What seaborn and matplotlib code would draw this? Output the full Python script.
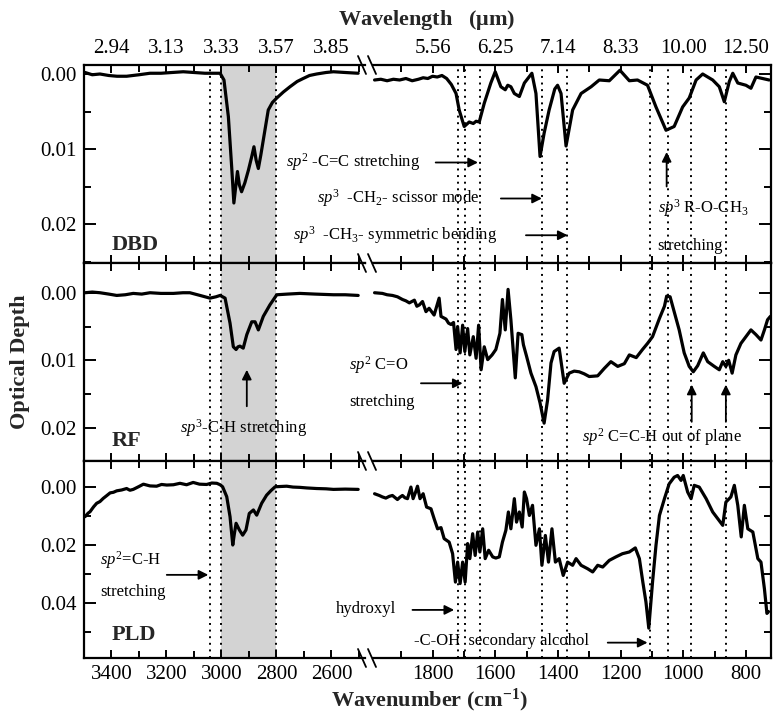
import matplotlib
matplotlib.use('Agg')
import matplotlib.pyplot as plt
import seaborn as sns
from matplotlib.ticker import MultipleLocator, FixedLocator, FixedFormatter, FormatStrFormatter
from matplotlib.lines import Line2D

# ---- data (wavenumber cm-1, optical depth) ----
# DBD
dbd_ch_wn = [3496, 3470, 3442, 3410, 3380, 3345, 3300, 3260, 3220, 3180, 3139, 3100, 3060, 3030, 3005,
             2991, 2975, 2963, 2955, 2942, 2935, 2927, 2915, 2902, 2890, 2882, 2874, 2866, 2857, 2848,
             2830, 2815, 2799, 2775, 2751, 2725, 2703, 2680, 2654, 2620, 2593, 2550, 2503]
dbd_ch_od = [-0.0002, 0.0001, 0.0000, 0.0002, 0.0003, 0.0003, 0.0001, -0.0001, -0.0001, -0.0002, -0.0003,
             -0.0002, -0.0001, -0.0001, -0.0001, 0.0008, 0.0057, 0.0124, 0.0172, 0.0130, 0.0148, 0.0157,
             0.0145, 0.0128, 0.0110, 0.0097, 0.0115, 0.0126, 0.0108, 0.0088, 0.0048, 0.0038, 0.0032,
             0.0024, 0.0017, 0.0010, 0.0006, 0.0002, 0.0000, -0.0002, -0.0003, -0.0002, -0.0001]
dbd_fp_wn = [1985, 1965, 1945, 1925, 1905, 1885, 1865, 1845, 1830, 1815, 1800, 1785, 1770, 1755, 1740,
             1725, 1715, 1699, 1683, 1670, 1661, 1651, 1635, 1614, 1600, 1582, 1568, 1560, 1550, 1539,
             1523, 1507, 1483, 1470, 1457, 1444, 1428, 1410, 1401, 1390, 1374, 1353, 1326, 1294, 1268,
             1236, 1202, 1172, 1146, 1114, 1087, 1055, 1029, 1002, 981, 959, 938, 906, 885, 869,
             853, 842, 826, 800, 784, 768, 747, 726]
dbd_fp_od = [0.0008, 0.0007, 0.0009, 0.0007, 0.0008, 0.0006, 0.0009, 0.0007, 0.0005, 0.0006, 0.0003,
             0.0004, 0.0002, 0.0006, 0.0014, 0.0026, 0.0048, 0.0070, 0.0064, 0.0066, 0.0063, 0.0064,
             0.0039, 0.0012, -0.0003, 0.0017, 0.0021, 0.0015, 0.0017, 0.0026, 0.0030, 0.0012, -0.0001,
             0.0026, 0.0110, 0.0079, 0.0048, 0.0020, 0.0015, 0.0026, 0.0096, 0.0048, 0.0026, 0.0017,
             0.0008, 0.0009, -0.0005, 0.0009, 0.0008, 0.0015, 0.0044, 0.0075, 0.0070, 0.0044, 0.0032,
             0.0008, 0.0000, 0.0008, 0.0017, 0.0037, 0.0010, -0.0001, 0.0012, 0.0015, 0.0019, 0.0004,
             0.0006, 0.0008]

# RF
rf_ch_wn = [3496, 3470, 3442, 3410, 3381, 3350, 3321, 3290, 3260, 3220, 3175, 3140, 3115, 3078, 3042,
            3020, 3005, 2987, 2969, 2957, 2947, 2940, 2933, 2921, 2908, 2890, 2878, 2866, 2848, 2824,
            2799, 2760, 2715, 2660, 2593, 2550, 2503]
rf_ch_od = [0.0000, -0.0001, 0.0000, 0.0002, 0.0004, 0.0003, 0.0001, 0.0002, 0.0000, 0.0001, 0.0001,
            0.0000, -0.0000, 0.0004, 0.0008, 0.0006, 0.0004, 0.0008, 0.0045, 0.0080, 0.0084, 0.0080,
            0.0079, 0.0082, 0.0062, 0.0043, 0.0043, 0.0055, 0.0035, 0.0018, 0.0003, 0.0002, 0.0001,
            0.0002, 0.0003, 0.0003, 0.0004]
rf_fp_wn = [1985, 1960, 1945, 1928, 1912, 1896, 1885, 1874, 1858, 1850, 1842, 1832, 1821, 1811, 1795,
            1779, 1773, 1757, 1749, 1741, 1733, 1725, 1720, 1712, 1704, 1697, 1688, 1681, 1670, 1661,
            1653, 1645, 1635, 1624, 1610, 1598, 1585, 1577, 1568, 1559, 1550, 1536, 1527, 1515, 1510,
            1500, 1486, 1470, 1457, 1444, 1433, 1422, 1412, 1396, 1380, 1364, 1348, 1332, 1316, 1300,
            1273, 1252, 1231, 1209, 1188, 1172, 1150, 1130, 1114, 1098, 1076, 1060, 1053, 1042, 1029,
            1013, 997, 981, 968, 954, 936, 922, 901, 885, 874, 864, 855, 844, 832, 816,
            800, 784, 768, 752, 741, 731, 722]
rf_fp_od = [0.0000, 0.0001, 0.0003, 0.0004, 0.0006, 0.0010, 0.0012, 0.0015, 0.0011, 0.0020, 0.0018,
            0.0013, 0.0028, 0.0023, 0.0033, 0.0008, 0.0035, 0.0039, 0.0045, 0.0047, 0.0044, 0.0084,
            0.0050, 0.0089, 0.0048, 0.0087, 0.0053, 0.0092, 0.0065, 0.0097, 0.0048, 0.0114, 0.0080,
            0.0099, 0.0092, 0.0084, 0.0060, 0.0010, 0.0055, -0.0005, 0.0040, 0.0126, 0.0060, 0.0062,
            0.0077, 0.0094, 0.0119, 0.0139, 0.0163, 0.0193, 0.0159, 0.0104, 0.0087, 0.0082, 0.0134,
            0.0119, 0.0116, 0.0117, 0.0120, 0.0124, 0.0123, 0.0112, 0.0102, 0.0109, 0.0105, 0.0092,
            0.0096, 0.0084, 0.0075, 0.0065, 0.0038, 0.0020, 0.0005, 0.0006, 0.0028, 0.0055, 0.0089,
            0.0109, 0.0117, 0.0108, 0.0089, 0.0102, 0.0109, 0.0114, 0.0102, 0.0109, 0.0100, 0.0119,
            0.0092, 0.0075, 0.0065, 0.0055, 0.0062, 0.0070, 0.0055, 0.0040, 0.0035]

# PLD
pld_ch_wn = [3496, 3485, 3478, 3465, 3454, 3442, 3430, 3418, 3405, 3393, 3381, 3363, 3345, 3333, 3321,
             3300, 3284, 3260, 3236, 3218, 3199, 3175, 3151, 3127, 3103, 3080, 3054, 3035, 3017, 3005,
             2996, 2981, 2969, 2959, 2953, 2947, 2935, 2923, 2911, 2899, 2884, 2872, 2854, 2836, 2820,
             2805, 2785, 2763, 2740, 2715, 2690, 2654, 2620, 2593, 2550, 2503]
pld_ch_od = [0.0102, 0.0090, 0.0085, 0.0068, 0.0056, 0.0050, 0.0039, 0.0030, 0.0020, 0.0018, 0.0013,
             0.0010, 0.0005, 0.0011, 0.0008, -0.0002, -0.0010, -0.0004, -0.0003, -0.0009, -0.0007,
             -0.0008, -0.0013, -0.0008, -0.0016, -0.0010, -0.0009, -0.0014, -0.0013, -0.0008, -0.0001,
             0.0033, 0.0102, 0.0200, 0.0160, 0.0125, 0.0148, 0.0166, 0.0148, 0.0091, 0.0079, 0.0097,
             0.0056, 0.0028, 0.0012, -0.0001, -0.0002, -0.0003, 0.0000, 0.0001, 0.0003, 0.0005, 0.0006,
             0.0008, 0.0007, 0.0008]
pld_fp_wn = [1985, 1970, 1960, 1949, 1938, 1928, 1920, 1912, 1904, 1896, 1888, 1880, 1869, 1862, 1855,
             1848, 1840, 1830, 1819, 1805, 1795, 1784, 1773, 1763, 1747, 1736, 1727, 1720, 1712, 1704,
             1696, 1688, 1681, 1672, 1664, 1656, 1649, 1640, 1632, 1621, 1608, 1598, 1587, 1577, 1566,
             1558, 1550, 1539, 1532, 1523, 1514, 1507, 1500, 1491, 1481, 1470, 1459, 1451, 1440, 1430,
             1419, 1408, 1396, 1383, 1369, 1353, 1342, 1326, 1305, 1289, 1273, 1257, 1236, 1215, 1194,
             1172, 1153, 1140, 1129, 1119, 1110, 1098, 1087, 1076, 1060, 1045, 1029, 1018, 1007, 1000,
             986, 975, 965, 949, 927, 906, 890, 874, 864, 848, 837, 826, 815, 805, 794,
             778, 762, 752, 741, 733, 728]
pld_fp_od = [0.0023, 0.0029, 0.0034, 0.0038, 0.0032, 0.0029, 0.0036, 0.0043, 0.0035, 0.0029, 0.0037,
             0.0040, 0.0000, 0.0040, 0.0020, -0.0003, 0.0040, 0.0023, 0.0069, 0.0075, 0.0109, 0.0144,
             0.0140, 0.0178, 0.0190, 0.0230, 0.0328, 0.0259, 0.0333, 0.0259, 0.0328, 0.0195, 0.0247,
             0.0161, 0.0236, 0.0155, 0.0224, 0.0144, 0.0247, 0.0218, 0.0241, 0.0245, 0.0241, 0.0190,
             0.0149, 0.0086, 0.0144, 0.0040, 0.0121, 0.0086, 0.0138, 0.0017, 0.0040, 0.0098, 0.0063,
             0.0201, 0.0144, 0.0270, 0.0167, 0.0259, 0.0144, 0.0259, 0.0247, 0.0305, 0.0259, 0.0270,
             0.0247, 0.0270, 0.0282, 0.0293, 0.0270, 0.0276, 0.0253, 0.0241, 0.0230, 0.0224, 0.0210,
             0.0247, 0.0328, 0.0397, 0.0487, 0.0328, 0.0201, 0.0098, 0.0040, -0.0011, -0.0034, -0.0040,
             -0.0023, -0.0040, 0.0017, 0.0040, -0.0006, 0.0000, 0.0040, 0.0086, 0.0109, 0.0132, 0.0052,
             0.0034, -0.0006, 0.0063, 0.0172, 0.0063, 0.0144, 0.0155, 0.0247, 0.0259, 0.0351, 0.0436,
             0.0430]

samples = ['DBD', 'RF', 'PLD']
ch_spectra = [(dbd_ch_wn, dbd_ch_od), (rf_ch_wn, rf_ch_od), (pld_ch_wn, pld_ch_od)]
fp_spectra = [(dbd_fp_wn, dbd_fp_od), (rf_fp_wn, rf_fp_od), (pld_fp_wn, pld_fp_od)]

# band positions (dotted lines) and the shaded C-H region
ch_lines = [3040, 3000, 2800]
fp_lines = [1720, 1695, 1650, 1450, 1370, 1105, 1050, 975, 865]
ch_band = (3000, 2800)

ch_ticks = [3400, 3200, 3000, 2800, 2600]
fp_ticks = [1800, 1600, 1400, 1200, 1000, 800]
ch_wavelength = ['2.94', '3.13', '3.33', '3.57', '3.85']
fp_wavelength = ['5.56', '6.25', '7.14', '8.33', '10.00', '12.50']

# ---- style ----
sns.set_style('ticks')
plt.rcParams['font.family'] = ['Liberation Serif', 'DejaVu Serif']
plt.rcParams['mathtext.fontset'] = 'custom'
plt.rcParams['mathtext.rm'] = 'Liberation Serif'
plt.rcParams['mathtext.it'] = 'Liberation Serif:italic'
plt.rcParams['mathtext.bf'] = 'Liberation Serif:bold'
plt.rcParams['axes.linewidth'] = 1.6

W, H = 773, 719
fig = plt.figure(figsize=(W / 100, H / 100), dpi=100)

row_px = [(65, 263), (263, 461), (461, 658)]
ylims = [(0.0252, -0.0012), (0.0249, -0.0044), (0.059, -0.009)]
ymajor = [0.01, 0.01, 0.02]
left_px = (84, 364.5)
right_px = (373, 771)

axes_l, axes_r = [], []
for i in range(3):
    top, bot = row_px[i]
    yb, hh = 1 - bot / H, (bot - top) / H
    axl = fig.add_axes([left_px[0] / W, yb, (left_px[1] - left_px[0]) / W, hh])
    axr = fig.add_axes([right_px[0] / W, yb, (right_px[1] - right_px[0]) / W, hh])

    for ax, (wn, od) in ((axl, ch_spectra[i]), (axr, fp_spectra[i])):
        sns.lineplot(x=wn, y=od, ax=ax, color='black', linewidth=2.3, legend=False, zorder=3)
        ax.set_xlabel('')
        ax.set_ylabel('')
        ax.set_ylim(*ylims[i])
        ax.yaxis.set_major_locator(MultipleLocator(ymajor[i]))
        ax.yaxis.set_minor_locator(MultipleLocator(ymajor[i] / 2))
        ax.xaxis.set_minor_locator(MultipleLocator(100))
        ax.tick_params(which='both', direction='in', top=True, bottom=True, width=1.4,
                       labelsize=15, pad=5, colors='black')
        ax.tick_params(axis='x', which='major', length=6)
        ax.tick_params(axis='x', which='minor', length=5)
        ax.tick_params(axis='y', which='major', length=8.5)
        ax.tick_params(axis='y', which='minor', length=5)
        for s in ax.spines.values():
            s.set_color('black')

    axl.set_xlim(3500, 2480)
    axr.set_xlim(1990, 720)
    axl.axvspan(*ch_band, color='#d3d3d3', zorder=0, lw=0)
    for x in ch_lines:
        axl.axvline(x, color='black', ls=(0, (1, 2.4)), lw=1.4, zorder=2)
    for x in fp_lines:
        axr.axvline(x, color='black', ls=(0, (1, 2.4)), lw=1.4, zorder=2)

    axl.spines['right'].set_visible(False)
    axr.spines['left'].set_visible(False)
    axl.tick_params(axis='y', which='both', left=True, right=False, labelleft=True)
    axl.yaxis.set_major_formatter(FormatStrFormatter('%.2f'))
    axr.tick_params(axis='y', which='both', left=False, right=True, labelleft=False, labelright=False)

    axl.xaxis.set_major_locator(FixedLocator(ch_ticks))
    axr.xaxis.set_major_locator(FixedLocator(fp_ticks))
    if i == 0:
        axl.xaxis.set_major_formatter(FixedFormatter(ch_wavelength))
        axr.xaxis.set_major_formatter(FixedFormatter(fp_wavelength))
        for ax in (axl, axr):
            ax.tick_params(axis='x', labeltop=True, labelbottom=False)
    elif i == 2:
        for ax in (axl, axr):
            ax.tick_params(axis='x', labeltop=False, labelbottom=True)
    else:
        for ax in (axl, axr):
            ax.tick_params(axis='x', labeltop=False, labelbottom=False)

    axl.text(3398, [0.0228, 0.0220, 0.0510][i], samples[i], fontsize=16, fontweight='bold',
             ha='left', va='center')
    axes_l.append(axl)
    axes_r.append(axr)

ann = dict(fontsize=12, color='black')
arr = dict(arrowstyle='-|>', color='black', lw=1.3, mutation_scale=14, shrinkA=0, shrinkB=0)

def arrow(ax, x0, y0, x1, y1):
    ax.annotate('', xy=(x1, y1), xytext=(x0, y0), arrowprops=arr, annotation_clip=False)

# DBD annotations
a = axes_r[0]
a.text(1839, 0.0118, r'$\mathit{sp}^{2}$ -C=C stretching', ha='right', va='center', **ann)
arrow(a, 1790, 0.0118, 1655, 0.0118)
a.text(1651, 0.0166, r'$\mathit{sp}^{3}$  -CH$_{2}$- scissor mode', ha='right', va='center', **ann)
arrow(a, 1582, 0.0166, 1451, 0.0166)
a.text(1593, 0.0215, r'$\mathit{sp}^{3}$  -CH$_{3}$- symmetric bending', ha='right', va='center', **ann)
arrow(a, 1502, 0.0215, 1369, 0.0215)
a.text(1082, 0.0179, r'$\mathit{sp}^{3}$ R-O-CH$_{3}$', ha='left', va='center', **ann)
a.text(1082, 0.0230, 'stretching', ha='left', va='center', **ann)
arrow(a, 1053, 0.0150, 1053, 0.0104)

# RF annotations
a = axes_l[1]
a.text(2920, 0.0200, r'$\mathit{sp}^{3}$-C-H stretching', ha='center', va='center', **ann)
arrow(a, 2908, 0.0168, 2908, 0.0114)
a = axes_r[1]
a.text(2066, 0.0107, r'$\mathit{sp}^{2}$ C=O', ha='left', va='center', **ann)
a.text(2066, 0.0161, 'stretching', ha='left', va='center', **ann)
arrow(a, 1837, 0.0134, 1704, 0.0134)
a.text(1067, 0.0213, r'$\mathit{sp}^{2}$ C=C-H out of plane', ha='center', va='center', **ann)
arrow(a, 973, 0.0191, 973, 0.0136)
arrow(a, 864, 0.0191, 864, 0.0136)

# PLD annotations
a = axes_l[2]
a.text(3442, 0.0252, r'$\mathit{sp}^{2}$=C-H', ha='left', va='center', **ann)
a.text(3442, 0.0361, 'stretching', ha='left', va='center', **ann)
arrow(a, 3199, 0.0303, 3048, 0.0303)
a = axes_r[2]
a.text(1917, 0.0422, 'hydroxyl', ha='right', va='center', **ann)
arrow(a, 1864, 0.0424, 1731, 0.0424)
a.text(1858, 0.0533, '-C-OH  secondary alcohol', ha='left', va='center', **ann)
arrow(a, 1241, 0.0537, 1114, 0.0537)

# axis-break marks
for yp in (65, 263, 461, 658):
    for xc in (362, 372):
        fig.add_artist(Line2D([(xc - 4) / W, (xc + 4) / W], [1 - (yp - 9) / H, 1 - (yp + 9) / H],
                              transform=fig.transFigure, color='black', lw=1.3))

fig.text(427 / W, 1 - 20 / H, r'Wavelength   ($\mathbf{\mu}$m)', ha='center', va='center',
         fontsize=16, fontweight='bold')
fig.text(430 / W, 1 - 700 / H, r'Wavenumber (cm$^{\mathbf{-1}}$)', ha='center', va='center',
         fontsize=16, fontweight='bold')
fig.text(20 / W, 1 - 362 / H, 'Optical Depth', rotation=90, ha='center', va='center',
         fontsize=16, fontweight='bold')

fig.savefig('out.png', dpi=100)
